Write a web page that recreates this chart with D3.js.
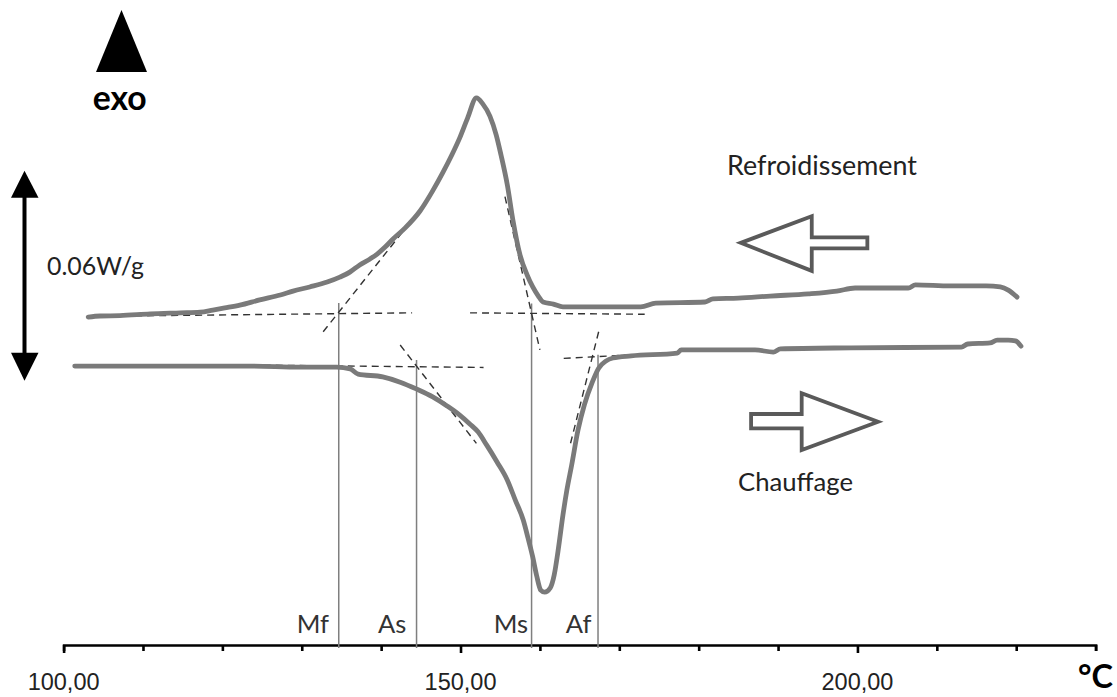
<!DOCTYPE html>
<html><head><meta charset="utf-8">
<script src="https://cdn.jsdelivr.net/npm/d3@7"></script>
<style>body{margin:0;background:#fff}svg{display:block}</style>
</head><body>
<svg id="c" width="1117" height="697"></svg>
<script>
// ---- data (temperature °C, heat flow mW/g, arbitrary offset) ----
const coolingTemp = [103.1,104.6,107.1,110.9,114.7,117.2,118.8,120.3,122.2,124.7,127.3,128.9,131.0,133.2,134.8,136.1,137.3,138.6,139.5,140.5,141.5,143.0,144.9,146.4,147.8,148.9,149.9,150.9,152.0,152.8,153.7,154.5,155.1,155.9,156.6,157.5,158.4,159.1,159.8,160.4,161.7,162.9,167.6,172.7,174.6,180.8,181.8,185.0,189.0,193.8,197.4,199.7,202.8,206.4,207.3,211.7,216.2,218.0,219.0,220.1];
const coolingFlow = [23.7,24.0,24.1,24.6,24.9,25.1,25.7,26.3,27.1,28.6,30.0,31.1,32.3,33.7,35.1,36.6,38.6,40.3,41.7,43.7,46.0,49.1,54.0,59.4,65.1,70.0,74.9,80.6,86.3,84.6,81.1,75.7,70.0,61.4,51.4,41.4,35.7,32.3,29.7,28.0,27.4,26.6,26.6,26.6,27.7,28.0,28.9,29.1,29.7,30.3,31.1,32.0,32.0,32.0,32.9,32.6,32.6,32.3,31.4,29.4];
const heatingTemp = [101.4,110.9,123.5,129.8,134.4,136.1,137.1,140.2,142.4,144.5,146.5,148.3,149.9,151.2,152.2,153.3,154.6,155.9,156.9,157.9,158.5,159.1,159.6,160.1,160.6,161.3,161.8,162.3,162.9,163.4,164.0,164.8,165.6,166.6,167.4,168.3,169.2,171.5,177.3,177.8,187.1,189.4,190.3,199.2,213.1,213.9,216.7,217.6,219.0,219.9,220.6];
const heatingFlow = [9.7,9.7,9.7,9.4,9.4,8.9,7.4,6.6,5.1,3.1,0.9,-1.7,-4.3,-6.9,-9.1,-12.9,-17.7,-22.9,-28.6,-34.3,-39.4,-44.9,-50.3,-54.3,-54.9,-53.7,-50.0,-42.9,-32.9,-25.7,-18.6,-8.6,-1.4,5.1,9.1,11.1,12.0,12.6,13.4,14.3,14.3,13.7,14.6,14.9,15.1,16.0,16.3,17.1,17.1,16.9,15.4];

const transitionNames = ["Mf","As","Ms","Af"];
const transitionTemps = [134.66,144.46,158.95,167.32];
const transitionTops = [27.7,11.4,27.6,12.9];

const tangentT1 = [107.5,132.7,151.2,155.6,123.7,142.4,163.0,167.4];
const tangentV1 = [24.0,19.5,24.9,58.1,10.0,15.7,11.9,19.5];
const tangentT2 = [143.9,144.9,173.2,160.0,152.9,152.0,175.1,163.8];
const tangentV2 = [24.9,54.3,24.5,14.3,9.3,-12.4,13.3,-12.9];

const xTickValues = [100,110,120,130,140,150,160,170,180,190,200,210,220,230];
const xLabelValues = [100,150,200];
const xLabelTexts = ["100,00","150,00","200,00"];
const scaleBarRange = [5.5,65.5]; // 60 mW/g = 0.06 W/g
const scaleBarText = "0.06W/g";
const coolingText = "Refroidissement";
const heatingText = "Chauffage";
const coolingArrowAt = [185.3,44.9];
const heatingArrowAt = [202.6,-6.2];

// ---- layout ----
const svg = d3.select("#c");
const x = d3.scaleLinear().domain([100,230]).range([63.6,1095.6]);
const y = d3.scaleLinear().domain([0,60]).range([400,190]);
const axisY = 645;
const SANS = "Lato, 'Open Sans', sans-serif";

function fit(sel, target){
  const w = sel.node().getComputedTextLength();
  const fs = parseFloat(sel.attr("font-size"));
  sel.attr("font-size", fs*target/w);
  return fs*target/w;
}

// axis
const axis = d3.axisBottom(x).tickValues(xTickValues).tickFormat("").tickSizeInner(6).tickSizeOuter(6);
const gAx = svg.append("g").attr("transform",`translate(0,${axisY})`).call(axis);
gAx.select(".domain").attr("stroke","#000").attr("stroke-width",2.6);
gAx.selectAll(".tick line").attr("stroke","#000").attr("stroke-width",2.6)
  .attr("y2", d => xLabelValues.includes(d) ? 8 : 6);
// tick labels
const lbls = svg.append("g").selectAll("text").data(xLabelValues).join("text")
  .attr("x", d=>x(d)).attr("y", 690).attr("text-anchor","middle")
  .attr("font-family","'Liberation Sans', Arial, sans-serif").attr("font-size",22)
  .attr("fill","#222").text((d,i)=>xLabelTexts[i]);
const fsTick = fit(d3.select(lbls.nodes()[0]), 72);
lbls.attr("font-size", fsTick);

// °C
const degC = svg.append("text").attr("x",1078).attr("y",688).attr("font-family",SANS)
  .attr("font-weight","bold").attr("font-size",34).attr("fill","#000").text("°C");
fit(degC, 35);

// vertical transition lines
svg.append("g").selectAll("line").data(transitionTemps).join("line")
  .attr("x1",d=>x(d)).attr("x2",d=>x(d))
  .attr("y1",(d,i)=>y(transitionTops[i])).attr("y2",axisY+3)
  .attr("stroke","#7f7f7f").attr("stroke-width",1.5);

const labelGap = [9.7,10.3,3.4,6.6];
const tl = svg.append("g").selectAll("text").data(transitionNames).join("text")
  .attr("x",(d,i)=>x(transitionTemps[i])-labelGap[i]).attr("y",633)
  .attr("text-anchor","end").attr("font-family",SANS).attr("font-size",24)
  .attr("fill","#333").text(d=>d);
const fsTL = fit(d3.select(tl.nodes()[0]), 32.3);
tl.attr("font-size", fsTL);

// dashed construction lines
svg.append("g").selectAll("line").data(tangentT1).join("line")
  .attr("x1",d=>x(d)).attr("y1",(d,i)=>y(tangentV1[i]))
  .attr("x2",(d,i)=>x(tangentT2[i])).attr("y2",(d,i)=>y(tangentV2[i]))
  .attr("stroke","#333").attr("stroke-width",1.4).attr("stroke-dasharray","7,5");

// curves
const line = d3.line().x(d=>x(d[0])).y(d=>y(d[1])).curve(d3.curveMonotoneX);
svg.append("path").datum(coolingTemp.map((t,i)=>[t,coolingFlow[i]]))
  .attr("d",line).attr("fill","none").attr("stroke","#7a7a7a").attr("stroke-width",4.8)
  .attr("stroke-linejoin","round").attr("stroke-linecap","round");
svg.append("path").datum(heatingTemp.map((t,i)=>[t,heatingFlow[i]]))
  .attr("d",line).attr("fill","none").attr("stroke","#7a7a7a").attr("stroke-width",4.8)
  .attr("stroke-linejoin","round").attr("stroke-linecap","round");

// scale bar (double arrow)
const sbX = 24.5;
const sbTop = y(scaleBarRange[1]), sbBot = y(scaleBarRange[0]);
svg.append("line").attr("x1",sbX).attr("x2",sbX).attr("y1",sbTop+20).attr("y2",sbBot-20)
  .attr("stroke","#000").attr("stroke-width",4);
svg.append("path").attr("d",`M${sbX},${sbTop}L${sbX+14},${sbTop+27}L${sbX-13.5},${sbTop+27}Z`).attr("fill","#000");
svg.append("path").attr("d",`M${sbX},${sbBot}L${sbX+14},${sbBot-28}L${sbX-13.5},${sbBot-28}Z`).attr("fill","#000");
const sbT = svg.append("text").attr("x",47).attr("y",275).attr("font-family",SANS)
  .attr("font-size",26).attr("fill","#222").text(scaleBarText);
fit(sbT, 97);

// exo marker
svg.append("path").attr("d","M121.5,10L147,72L96,72Z").attr("fill","#000");
const exo = svg.append("text").attr("x",119.7).attr("y",110).attr("text-anchor","middle")
  .attr("font-family",SANS).attr("font-weight","bold").attr("font-size",34).attr("fill","#000").text("exo");
fit(exo, 54);

// direction arrows
const ax1 = x(coolingArrowAt[0]), ay1 = y(coolingArrowAt[1]);
svg.append("path").attr("transform",`translate(${ax1},${ay1})`)
  .attr("d","M0,0L71,-26.7L71,-5.4L126.6,-5.4L126.6,5.6L71,5.6L71,28Z")
  .attr("fill","#fff").attr("stroke","#5a5a5a").attr("stroke-width",3.8).attr("stroke-linejoin","miter");
const ax2 = x(heatingArrowAt[0]), ay2 = y(heatingArrowAt[1]);
svg.append("path").attr("transform",`translate(${ax2},${ay2})`)
  .attr("d","M0,0L-76.4,-28.4L-76.4,-7.7L-127,-7.7L-127,6.6L-76.4,6.6L-76.4,28.3Z")
  .attr("fill","#fff").attr("stroke","#5a5a5a").attr("stroke-width",3.8).attr("stroke-linejoin","miter");

const rt = svg.append("text").attr("x",727).attr("y",175).attr("font-family",SANS)
  .attr("font-size",26).attr("fill","#222").text(coolingText);
fit(rt, 190);
const ct = svg.append("text").attr("x",738).attr("y",491).attr("font-family",SANS)
  .attr("font-size",26).attr("fill","#222").text(heatingText);
fit(ct, 115);
</script>
</body></html>
